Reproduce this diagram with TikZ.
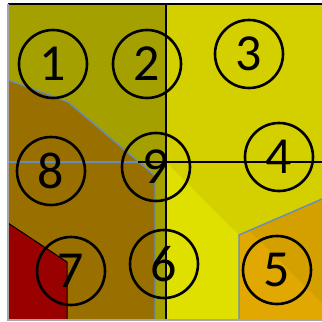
\documentclass[tikz,border=0pt]{standalone}
\usepackage{fontspec}
\setmainfont{Carlito}
\definecolor{olive1}{RGB}{163,160,0}
\definecolor{brown1}{RGB}{153,112,0}
\definecolor{red1}{RGB}{153,0,0}
\definecolor{yel1}{RGB}{212,208,0}
\definecolor{yel2}{RGB}{224,224,0}
\definecolor{ora1}{RGB}{224,168,0}
\definecolor{ora2}{RGB}{212,160,0}
\definecolor{bline}{RGB}{100,140,190}
\tikzset{
  num/.style={circle, draw=black, line width=2.6pt, minimum size=68pt, inner sep=0pt, font=\fontsize{52}{52}\selectfont},
  bnd/.style={draw=bline, line width=1.4pt},
  grid/.style={draw=black, line width=1.5pt}
}
\begin{document}
\begin{tikzpicture}[x=1pt,y=-1pt]
\useasboundingbox (0,0) rectangle (322,322);
\fill[white] (0,0) rectangle (322,322);
% left half
\fill[olive1] (8,4) rectangle (166,320);
\fill[brown1] (8,80) -- (55,97) -- (68,102) -- (153,174) -- (155,177) -- (155,320) -- (8,320) -- cycle;
\fill[red1] (8,223) -- (67,262) -- (67,320) -- (8,320) -- cycle;
% right half
\fill[yel1] (166,4) rectangle (322,320);
\fill[yel2] (166,162) -- (239,235) -- (239,320) -- (166,320) -- cycle;
\fill[ora1] (239,235) -- (322,199) -- (322,320) -- (239,320) -- cycle;
\fill[ora2] (249,230) -- (322,199) -- (322,303) -- cycle;
% boundaries
\draw[bnd] (8,80) -- (55,97) -- (68,102) -- (153,174) -- (155,177) -- (155,320);
\draw[bnd] (8,162) -- (138,162);
\draw[bnd] (239,320) -- (239,235) -- (322,199);
\draw[black, line width=1pt] (8,223) -- (67,262) -- (67,320);
\draw[grid] (166,4) -- (166,320);
\draw[grid] (138,162) -- (322,162);
% frame
\draw[black, line width=2pt] (8,4) -- (322,4);
\draw[gray!70, line width=1.5pt] (8,4) -- (8,320) -- (322,320);
% numbered circles
\node[num] (n1) at (53,64) {1};
\node[num] (n2) at (147,64) {2};
\node[num] (n3) at (249,54) {3};
\node[num] (n4) at (279,157) {4};
\node[num] (n5) at (277,270) {5};
\node[num] (n6) at (164,264) {6};
\node[num] (n7) at (71,271) {7};
\node[num] (n8) at (51,171) {8};
\node[num] (n9) at (156,167) {9};
\end{tikzpicture}
\end{document}
